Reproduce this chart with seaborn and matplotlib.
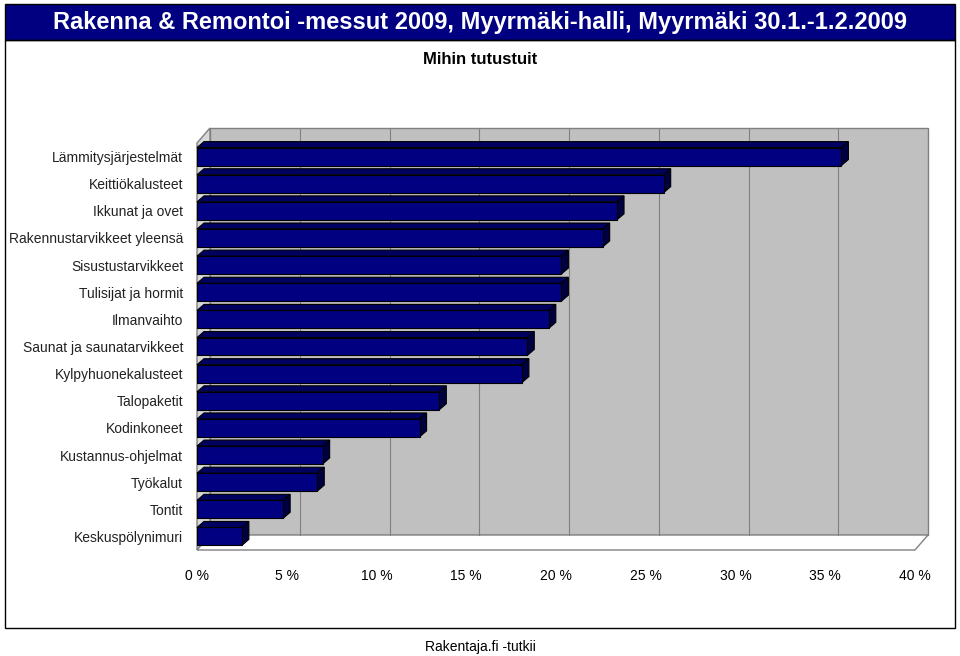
import matplotlib
matplotlib.use("Agg")
import matplotlib.pyplot as plt
import matplotlib.transforms as mtransforms
from matplotlib.patches import Polygon, Rectangle
import pandas as pd
import seaborn as sns

plt.rcParams['font.family'] = 'Liberation Sans'

categories = ['Lämmitysjärjestelmät', 'Keittiökalusteet', 'Ikkunat ja ovet',
              'Rakennustarvikkeet yleensä', 'Sisustustarvikkeet', 'Tulisijat ja hormit',
              'Ilmanvaihto', 'Saunat ja saunatarvikkeet', 'Kylpyhuonekalusteet',
              'Talopaketit', 'Kodinkoneet', 'Kustannus-ohjelmat', 'Työkalut',
              'Tontit', 'Keskuspölynimuri']
values = [35.9, 26.0, 23.4, 22.6, 20.3, 20.3, 19.6, 18.4, 18.1, 13.5, 12.4, 7.0, 6.7, 4.8, 2.5]
ticks = [0, 5, 10, 15, 20, 25, 30, 35, 40]

df = pd.DataFrame({'cat': categories, 'val': values})

W, H = 960, 656
fig = plt.figure(figsize=(9.6, 6.56), dpi=100)
fig.patch.set_facecolor('white')

# banner + frame
fig.patches.append(Rectangle((5 / W, 1 - 40 / H), 950 / W, 36 / H, transform=fig.transFigure,
                             facecolor='#000080', edgecolor='black', lw=1))
fig.patches.append(Rectangle((5 / W, 1 - 628 / H), 950 / W, 588 / H, transform=fig.transFigure,
                             facecolor='none', edgecolor='black', lw=1))
fig.text(480 / W, 1 - 22 / H, 'Rakenna & Remontoi -messut 2009, Myyrmäki-halli, Myyrmäki 30.1.-1.2.2009',
         color='white', fontsize=17, fontweight='bold', ha='center', va='center')
fig.text(480 / W, 1 - 59 / H, 'Mihin tutustuit', fontsize=12, fontweight='bold', ha='center', va='center')
fig.text(480 / W, 1 - 647 / H, 'Rakentaja.fi -tutkii', fontsize=10, ha='center', va='center')

ax = fig.add_axes([197 / W, 1 - 550 / H, (915 - 197) / W, (550 - 143) / H])
ax.set_xlim(0, 40)
sns.barplot(data=df, y='cat', x='val', orient='h', color='#000080', saturation=1, width=0.66,
            edgecolor='black', linewidth=0.8, ax=ax, zorder=3)
ax.set_ylim(len(categories) - 0.5, -0.5)

ll = ax.transData.inverted()
def shifted(x, y, dx, dy):
    p = ax.transData.transform((x, y)) + [dx, dy]
    return ll.transform(p)

wx, wy = 13, 15
off = ax.transData + mtransforms.ScaledTranslation(wx / 100, wy / 100, fig.dpi_scale_trans)
y0, y1 = ax.get_ylim()
# back wall
ax.add_patch(Rectangle((0, y1), 40, y0 - y1, transform=off, facecolor='#c0c0c0',
                       edgecolor='#808080', lw=1, clip_on=False, zorder=0))
for t in ticks[1:-1]:
    ax.plot([t, t], [y0, y1], transform=off, color='#808080', lw=0.8, clip_on=False, zorder=1)
ax.add_patch(Polygon([(0, y0), (0, y1), shifted(0, y1, wx, wy), shifted(0, y0, wx, wy)], closed=True,
                     facecolor='#d8d8d8', edgecolor='#808080', lw=1, clip_on=False, zorder=0))
ax.add_patch(Polygon([(0, y0), (40, y0), shifted(40, y0, wx, wy), shifted(0, y0, wx, wy)], closed=True,
                     facecolor='white', edgecolor='#808080', lw=1, clip_on=False, zorder=0))

# 3D sides of bars
bx, by = 7, 6
for p in ax.containers[0]:
    x, y, w, h = p.get_x(), p.get_y(), p.get_width(), p.get_height()
    top = [(x, y), (x + w, y), shifted(x + w, y, bx, by), shifted(x, y, bx, by)]
    side = [(x + w, y), (x + w, y + h), shifted(x + w, y + h, bx, by), shifted(x + w, y, bx, by)]
    ax.add_patch(Polygon(top, closed=True, facecolor='#000060', edgecolor='black', lw=0.8,
                         clip_on=False, zorder=2))
    ax.add_patch(Polygon(side, closed=True, facecolor='#000040', edgecolor='black', lw=0.8,
                         clip_on=False, zorder=2))

ax.set_facecolor('none')
for s in ax.spines.values():
    s.set_visible(False)
ax.set_xticks(ticks)
ax.set_xticklabels([f'{t} %' for t in ticks], fontsize=10)
ax.tick_params(axis='x', length=0, pad=14)
ax.tick_params(axis='y', length=0, pad=10, labelsize=10, labelcolor='#222222')
ax.set_xlabel('')
ax.set_ylabel('')

fig.savefig('out.png', dpi=100)
